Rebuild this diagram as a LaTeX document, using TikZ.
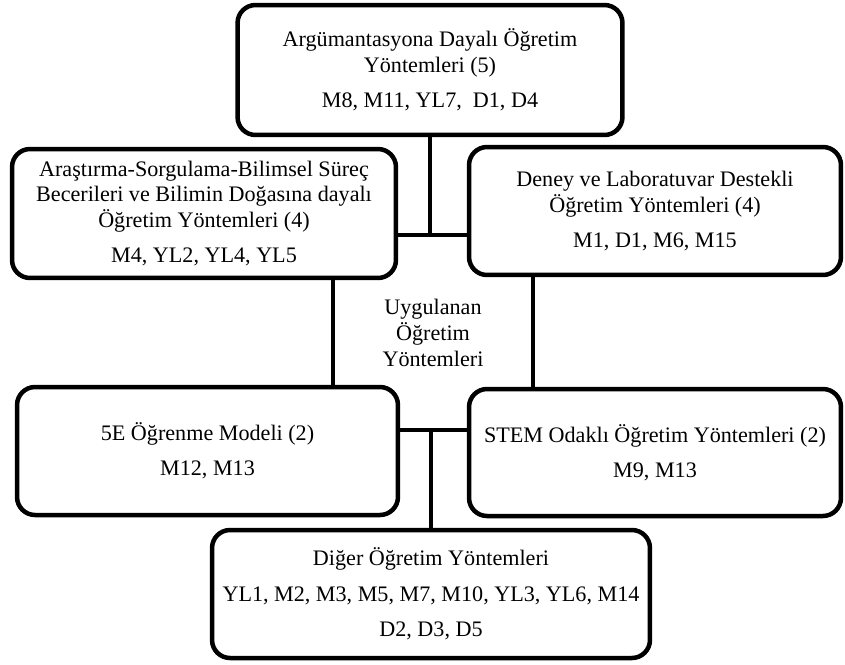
\documentclass[tikz,border=0pt]{standalone}
\usepackage{fontspec}
\setmainfont{Liberation Serif}
\usepackage{tikz}
\usetikzlibrary{positioning,calc}

\begin{document}
\begin{tikzpicture}[x=0.02cm,y=-0.02cm,
  kutu/.style={draw=black,line width=0.09cm,rounded corners=0.36cm,fill=white,
    align=center,inner sep=0pt,font=\fontsize{12.6}{14.6}\selectfont},
  bag/.style={draw=black,line width=0.09cm}]
\useasboundingbox (0,0) rectangle (845,664);
% kutular
\node[kutu,minimum width=7.7cm,minimum height=2.6cm] (argu) at (430,70) {%
  Argümantasyona Dayalı Öğretim\\ Yöntemleri (5)\\[5.5pt] M8, M11, YL7,~ D1, D4};
\node[kutu,minimum width=7.68cm,minimum height=2.58cm] (arastirma) at (204,213.5) {%
  Araştırma-Sorgulama-Bilimsel Süreç\\ Becerileri ve Bilimin Doğasına dayalı\\
  Öğretim Yöntemleri (4)\\[5.5pt] M4, YL2, YL4, YL5};
\node[kutu,minimum width=7.44cm,minimum height=2.56cm] (deney) at (655,211) {%
  Deney ve Laboratuvar Destekli\\ Öğretim Yöntemleri (4)\\[5.5pt] M1, D1, M6, M15};
\node[kutu,minimum width=7.62cm,minimum height=2.56cm] (besE) at (207.5,451) {%
  5E Öğrenme Modeli (2)\\[5.5pt] M12, M13};
\node[kutu,minimum width=7.44cm,minimum height=2.54cm] (stem) at (655,452.5) {%
  STEM Odaklı Öğretim Yöntemleri (2)\\[5.5pt] M9, M13};
\node[kutu,minimum width=8.76cm,minimum height=2.56cm] (diger) at (431,594) {%
  Diğer Öğretim Yöntemleri\\[5.5pt] YL1, M2, M3, M5, M7, M10, YL3, YL6, M14\\[5.5pt] D2, D3, D5};
% orta yazi
\node[align=center,font=\fontsize{12.6}{14.6}\selectfont] (merkez) at (433,333) {%
  Uygulanan\\ Öğretim\\ Yöntemleri};
% baglantilar
\coordinate (ustkavsak) at (430,235);
\coordinate (altkavsak) at (431,430);
\coordinate (solhat) at (333,300);
\coordinate (saghat) at (533,300);
\draw[bag] (argu.south) -- (ustkavsak);
\draw[bag] (arastirma.east |- ustkavsak) -- (deney.west |- ustkavsak);
\draw[bag] (arastirma.south -| solhat) -- (besE.north -| solhat);
\draw[bag] (deney.south -| saghat) -- (stem.north -| saghat);
\draw[bag] (besE.east |- altkavsak) -- (stem.west |- altkavsak);
\draw[bag] (altkavsak) -- (diger.north);
\end{tikzpicture}
\end{document}
